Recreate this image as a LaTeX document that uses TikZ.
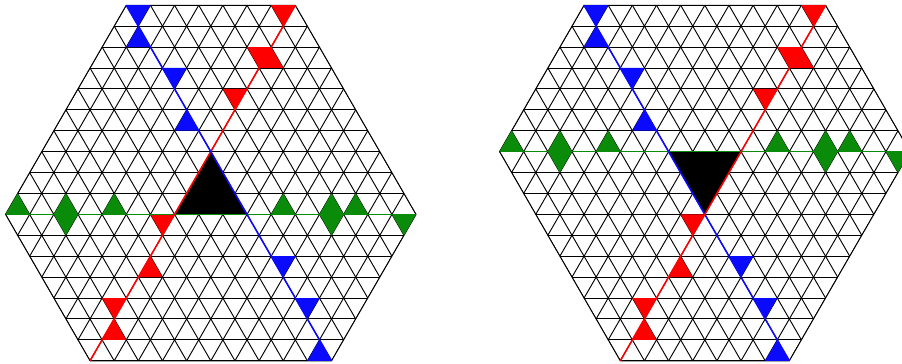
\documentclass[tikz,border=0pt]{standalone}
\definecolor{mygreen}{RGB}{10,140,10}
\definecolor{myblue}{RGB}{10,10,255}
\definecolor{myred}{RGB}{255,0,0}
\begin{document}
\begin{tikzpicture}[x=0.5cm, y=0.4330127cm,
  gridline/.style={line width=0.55pt, black},
  guide/.style={line width=0.9pt},
  bluefill/.style={fill=myblue},
  redfill/.style={fill=myred},
  greenfill/.style={fill=mygreen}]
\useasboundingbox (-0.228,-7.11) rectangle (37.12,10.25);
\clip (-0.228,-7.11) rectangle (37.12,10.25);

% ---------- left hexagon ----------
\begin{scope}
  \begin{scope}
    \clip (0,0)--(5,10)--(12,10)--(17,0)--(13.5,-7)--(3.5,-7)--cycle;
    \foreach \b in {-10,...,10} \draw[gridline] (-1,\b) -- (18,\b);
    \foreach \c in {-6,...,23} {
      \draw[gridline] (\c-5.5,-11) -- (\c+5.5,11);
      \draw[gridline] (\c+5.5,-11) -- (\c-5.5,11);
    }
  \end{scope}
  \draw[gridline, line join=round] (0,0)--(5,10)--(12,10)--(17,0)--(13.5,-7)--(3.5,-7)--cycle;
  % black
  \fill[black] (7,0)--(10,0)--(8.5,3)--cycle;
  % blue
  \fill[bluefill] (5,10)--(6,10)--(5.5,9)--cycle;
  \fill[bluefill] (5,8)--(6,8)--(5.5,9)--cycle;
  \fill[bluefill] (6.5,7)--(7.5,7)--(7,6)--cycle;
  \fill[bluefill] (7,4)--(8,4)--(7.5,5)--cycle;
  \fill[bluefill] (11,-2)--(12,-2)--(11.5,-3)--cycle;
  \fill[bluefill] (12,-4)--(13,-4)--(12.5,-5)--cycle;
  \fill[bluefill] (12.5,-7)--(13.5,-7)--(13,-6)--cycle;
  % red
  \fill[redfill] (11,10)--(12,10)--(11.5,9)--cycle;
  \fill[redfill] (10,8)--(11,8)--(11.5,7)--(10.5,7)--cycle;
  \fill[redfill] (9,6)--(10,6)--(9.5,5)--cycle;
  \fill[redfill] (6,0)--(7,0)--(6.5,-1)--cycle;
  \fill[redfill] (5.5,-3)--(6.5,-3)--(6,-2)--cycle;
  \fill[redfill] (4,-4)--(5,-4)--(4.5,-5)--cycle;
  \fill[redfill] (4,-6)--(5,-6)--(4.5,-5)--cycle;
  % green
  \fill[greenfill] (0,0)--(1,0)--(0.5,1)--cycle;
  \fill[greenfill] (2,0)--(2.5,1)--(3,0)--(2.5,-1)--cycle;
  \fill[greenfill] (4,0)--(5,0)--(4.5,1)--cycle;
  \fill[greenfill] (11,0)--(12,0)--(11.5,1)--cycle;
  \fill[greenfill] (13,0)--(13.5,1)--(14,0)--(13.5,-1)--cycle;
  \fill[greenfill] (14,0)--(15,0)--(14.5,1)--cycle;
  \fill[greenfill] (16,0)--(17,0)--(16.5,-1)--cycle;
  % guide lines
  \draw[guide, mygreen] (0,0) -- (17,0);
  \draw[guide, myred] (3.5,-7) -- (12,10);
  \draw[guide, myblue] (5,10) -- (13.5,-7);
\end{scope}

% ---------- right hexagon ----------
\begin{scope}[shift={(20.455,3)}]
  \begin{scope}
    \clip (0,0)--(3.5,7)--(13.5,7)--(17,0)--(12,-10)--(5,-10)--cycle;
    \foreach \b in {-10,...,10} \draw[gridline] (-1,\b) -- (18,\b);
    \foreach \c in {-6,...,23} {
      \draw[gridline] (\c-5.5,-11) -- (\c+5.5,11);
      \draw[gridline] (\c+5.5,-11) -- (\c-5.5,11);
    }
  \end{scope}
  \draw[gridline, line join=round] (0,0)--(3.5,7)--(13.5,7)--(17,0)--(12,-10)--(5,-10)--cycle;
  % black
  \fill[black] (7,0)--(10,0)--(8.5,-3)--cycle;
  % blue
  \fill[bluefill] (3.5,7)--(4.5,7)--(4,6)--cycle;
  \fill[bluefill] (3.5,5)--(4.5,5)--(4,6)--cycle;
  \fill[bluefill] (5,4)--(6,4)--(5.5,3)--cycle;
  \fill[bluefill] (5.5,1)--(6.5,1)--(6,2)--cycle;
  \fill[bluefill] (9.5,-5)--(10.5,-5)--(10,-6)--cycle;
  \fill[bluefill] (10.5,-7)--(11.5,-7)--(11,-8)--cycle;
  \fill[bluefill] (11,-10)--(12,-10)--(11.5,-9)--cycle;
  % red
  \fill[redfill] (12.5,7)--(13.5,7)--(13,6)--cycle;
  \fill[redfill] (11.5,5)--(12.5,5)--(13,4)--(12,4)--cycle;
  \fill[redfill] (10.5,3)--(11.5,3)--(11,2)--cycle;
  \fill[redfill] (7.5,-3)--(8.5,-3)--(8,-4)--cycle;
  \fill[redfill] (7,-6)--(8,-6)--(7.5,-5)--cycle;
  \fill[redfill] (5.5,-7)--(6.5,-7)--(6,-8)--cycle;
  \fill[redfill] (5.5,-9)--(6.5,-9)--(6,-8)--cycle;
  % green
  \fill[greenfill] (0,0)--(1,0)--(0.5,1)--cycle;
  \fill[greenfill] (2,0)--(2.5,1)--(3,0)--(2.5,-1)--cycle;
  \fill[greenfill] (4,0)--(5,0)--(4.5,1)--cycle;
  \fill[greenfill] (11,0)--(12,0)--(11.5,1)--cycle;
  \fill[greenfill] (13,0)--(13.5,1)--(14,0)--(13.5,-1)--cycle;
  \fill[greenfill] (14,0)--(15,0)--(14.5,1)--cycle;
  \fill[greenfill] (16,0)--(17,0)--(16.5,-1)--cycle;
  % guide lines
  \draw[guide, mygreen] (0,0) -- (17,0);
  \draw[guide, myblue] (3.5,7) -- (12,-10);
  \draw[guide, myred] (5,-10) -- (13.5,7);
\end{scope}
\end{tikzpicture}
\end{document}
